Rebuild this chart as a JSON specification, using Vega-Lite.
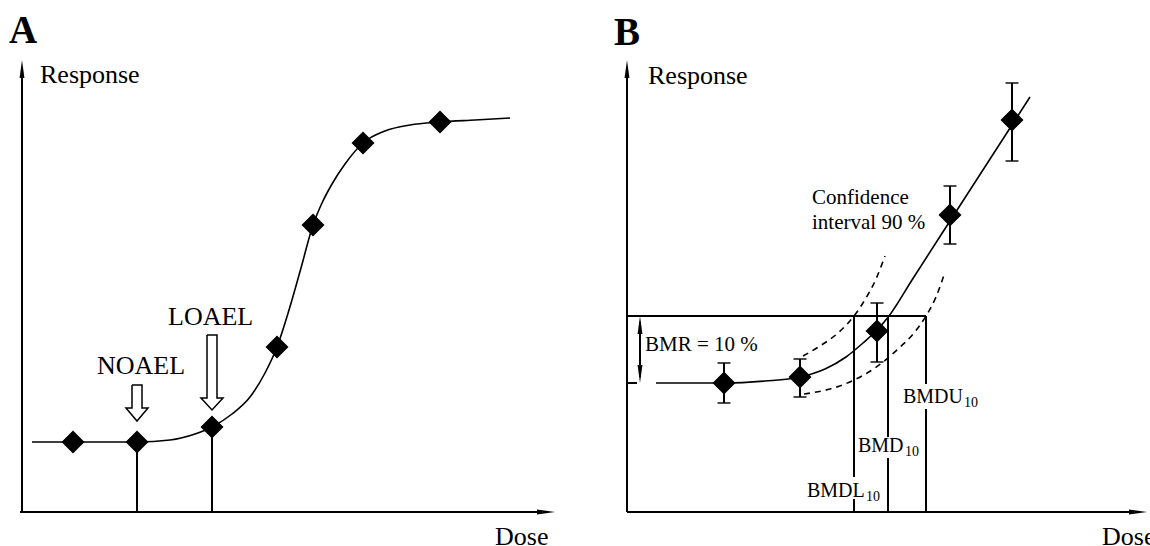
{
  "$schema": "https://vega.github.io/schema/vega-lite/v6.json",
  "width": 1150,
  "height": 546,
  "padding": 0,
  "autosize": {"type": "none"},
  "background": "white",
  "config": {"view": {"stroke": null}},
  "datasets": {
    "rules": [
      {"x": 22, "y": 512, "x2": 22, "y2": 70},
      {"x": 20, "y": 512, "x2": 545, "y2": 512},
      {"x": 627, "y": 512, "x2": 627, "y2": 70},
      {"x": 627, "y": 512, "x2": 1139, "y2": 512},
      {"x": 137, "y": 442, "x2": 137, "y2": 512},
      {"x": 212, "y": 427, "x2": 212, "y2": 512},
      {"x": 627, "y": 316, "x2": 926, "y2": 316},
      {"x": 627, "y": 383, "x2": 637, "y2": 383},
      {"x": 640, "y": 322, "x2": 640, "y2": 377},
      {"x": 854, "y": 316, "x2": 854, "y2": 477},
      {"x": 854, "y": 499, "x2": 854, "y2": 512},
      {"x": 888, "y": 316, "x2": 888, "y2": 437},
      {"x": 888, "y": 458, "x2": 888, "y2": 512},
      {"x": 926, "y": 316, "x2": 926, "y2": 384},
      {"x": 926, "y": 409, "x2": 926, "y2": 512}
    ],
    "heads": [
      {"x": 22, "y": 69, "dir": "up"},
      {"x": 627, "y": 69, "dir": "up"},
      {"x": 546, "y": 512, "dir": "right"},
      {"x": 1138, "y": 512, "dir": "right"},
      {"x": 640, "y": 325, "dir": "up"},
      {"x": 640, "y": 374, "dir": "down"}
    ],
    "fits": [
      {"c": "A", "x": 32, "y": 442}, {"c": "A", "x": 80, "y": 442}, {"c": "A", "x": 137, "y": 442},
      {"c": "A", "x": 170, "y": 440}, {"c": "A", "x": 195, "y": 434}, {"c": "A", "x": 212, "y": 427},
      {"c": "A", "x": 232, "y": 414}, {"c": "A", "x": 250, "y": 397}, {"c": "A", "x": 265, "y": 373},
      {"c": "A", "x": 277, "y": 347}, {"c": "A", "x": 289, "y": 310}, {"c": "A", "x": 301, "y": 268},
      {"c": "A", "x": 313, "y": 225}, {"c": "A", "x": 322, "y": 203}, {"c": "A", "x": 332, "y": 184},
      {"c": "A", "x": 345, "y": 164}, {"c": "A", "x": 363, "y": 143}, {"c": "A", "x": 385, "y": 131},
      {"c": "A", "x": 410, "y": 125}, {"c": "A", "x": 440, "y": 122}, {"c": "A", "x": 475, "y": 120},
      {"c": "A", "x": 510, "y": 118},
      {"c": "B", "x": 656, "y": 383}, {"c": "B", "x": 724, "y": 383}, {"c": "B", "x": 765, "y": 381},
      {"c": "B", "x": 800, "y": 377}, {"c": "B", "x": 825, "y": 369}, {"c": "B", "x": 846, "y": 357},
      {"c": "B", "x": 863, "y": 343}, {"c": "B", "x": 877, "y": 330}, {"c": "B", "x": 889, "y": 316},
      {"c": "B", "x": 912, "y": 280}, {"c": "B", "x": 950, "y": 221}, {"c": "B", "x": 1012, "y": 125},
      {"c": "B", "x": 1030, "y": 97}
    ],
    "ci": [
      {"c": "upper", "x": 803, "y": 356}, {"c": "upper", "x": 820, "y": 346}, {"c": "upper", "x": 838, "y": 333},
      {"c": "upper", "x": 854, "y": 316}, {"c": "upper", "x": 866, "y": 298}, {"c": "upper", "x": 876, "y": 279},
      {"c": "upper", "x": 885, "y": 256},
      {"c": "lower", "x": 804, "y": 394}, {"c": "lower", "x": 830, "y": 389}, {"c": "lower", "x": 852, "y": 381},
      {"c": "lower", "x": 875, "y": 368}, {"c": "lower", "x": 898, "y": 349}, {"c": "lower", "x": 914, "y": 333},
      {"c": "lower", "x": 926, "y": 316}, {"c": "lower", "x": 936, "y": 297}, {"c": "lower", "x": 945, "y": 272}
    ],
    "hollow": [
      {"a": "NOAEL", "o": 1, "x": 132, "y": 385}, {"a": "NOAEL", "o": 2, "x": 142, "y": 385},
      {"a": "NOAEL", "o": 3, "x": 142, "y": 408}, {"a": "NOAEL", "o": 4, "x": 148, "y": 408},
      {"a": "NOAEL", "o": 5, "x": 137, "y": 421}, {"a": "NOAEL", "o": 6, "x": 126, "y": 408},
      {"a": "NOAEL", "o": 7, "x": 132, "y": 408}, {"a": "NOAEL", "o": 8, "x": 132, "y": 385},
      {"a": "LOAEL", "o": 1, "x": 207, "y": 335}, {"a": "LOAEL", "o": 2, "x": 217, "y": 335},
      {"a": "LOAEL", "o": 3, "x": 217, "y": 398}, {"a": "LOAEL", "o": 4, "x": 223, "y": 398},
      {"a": "LOAEL", "o": 5, "x": 212, "y": 410}, {"a": "LOAEL", "o": 6, "x": 201, "y": 398},
      {"a": "LOAEL", "o": 7, "x": 207, "y": 398}, {"a": "LOAEL", "o": 8, "x": 207, "y": 335}
    ],
    "errs": [
      {"x": 724, "lo": 363, "hi": 403},
      {"x": 800, "lo": 359, "hi": 397},
      {"x": 877, "lo": 303, "hi": 362},
      {"x": 950, "lo": 186, "hi": 244},
      {"x": 1012, "lo": 83, "hi": 161}
    ],
    "points": [
      {"x": 73, "y": 442}, {"x": 137, "y": 442}, {"x": 212, "y": 427}, {"x": 277, "y": 347},
      {"x": 313, "y": 225}, {"x": 363, "y": 143}, {"x": 440, "y": 122},
      {"x": 724, "y": 383}, {"x": 800, "y": 377}, {"x": 877, "y": 331}, {"x": 950, "y": 215}, {"x": 1012, "y": 120}
    ],
    "letters": [
      {"t": "A", "x": 9, "y": 43},
      {"t": "B", "x": 614, "y": 45}
    ],
    "big": [
      {"t": "Response", "x": 40, "y": 83},
      {"t": "Response", "x": 648, "y": 84},
      {"t": "Dose", "x": 495, "y": 545},
      {"t": "Dose", "x": 1102, "y": 545},
      {"t": "NOAEL", "x": 97, "y": 374},
      {"t": "LOAEL", "x": 168, "y": 325}
    ],
    "mid": [
      {"t": "BMR = 10 %", "x": 645, "y": 351},
      {"t": "Confidence", "x": 812, "y": 204},
      {"t": "interval 90 %", "x": 812, "y": 229}
    ],
    "bmd": [
      {"t": "BMDL", "x": 807, "y": 497},
      {"t": "BMD", "x": 858, "y": 452},
      {"t": "BMDU", "x": 903, "y": 403}
    ],
    "subs": [
      {"t": "10", "x": 866, "y": 501},
      {"t": "10", "x": 905, "y": 456},
      {"t": "10", "x": 964, "y": 407}
    ]
  },
  "layer": [
    {
      "data": {"name": "rules"},
      "mark": {"type": "rule", "color": "black", "strokeWidth": 2},
      "encoding": {
        "x": {"field": "x", "type": "quantitative", "axis": null, "scale": {"domain": [0, 1150], "nice": false, "zero": false}},
        "y": {"field": "y", "type": "quantitative", "axis": null, "scale": {"domain": [0, 546], "nice": false, "zero": false, "reverse": true}},
        "x2": {"field": "x2"},
        "y2": {"field": "y2"}
      }
    },
    {
      "data": {"name": "fits"},
      "mark": {"type": "line", "color": "black", "strokeWidth": 1.6, "interpolate": "monotone"},
      "encoding": {
        "x": {"field": "x", "type": "quantitative"},
        "y": {"field": "y", "type": "quantitative"},
        "detail": {"field": "c"}
      }
    },
    {
      "data": {"name": "ci"},
      "mark": {"type": "line", "color": "black", "strokeWidth": 1.6, "interpolate": "monotone", "strokeDash": [6, 5]},
      "encoding": {
        "x": {"field": "x", "type": "quantitative"},
        "y": {"field": "y", "type": "quantitative"},
        "detail": {"field": "c"}
      }
    },
    {
      "data": {"name": "hollow"},
      "mark": {"type": "line", "color": "black", "strokeWidth": 1.5, "strokeJoin": "miter"},
      "encoding": {
        "x": {"field": "x", "type": "quantitative"},
        "y": {"field": "y", "type": "quantitative"},
        "detail": {"field": "a"},
        "order": {"field": "o"}
      }
    },
    {
      "data": {"name": "errs"},
      "mark": {"type": "rule", "color": "black", "strokeWidth": 2},
      "encoding": {
        "x": {"field": "x", "type": "quantitative"},
        "y": {"field": "lo", "type": "quantitative"},
        "y2": {"field": "hi"}
      }
    },
    {
      "data": {"name": "errs"},
      "mark": {"type": "tick", "orient": "horizontal", "color": "black", "size": 13, "thickness": 2},
      "encoding": {
        "x": {"field": "x", "type": "quantitative"},
        "y": {"field": "lo", "type": "quantitative"}
      }
    },
    {
      "data": {"name": "errs"},
      "mark": {"type": "tick", "orient": "horizontal", "color": "black", "size": 13, "thickness": 2},
      "encoding": {
        "x": {"field": "x", "type": "quantitative"},
        "y": {"field": "hi", "type": "quantitative"}
      }
    },
    {
      "data": {"name": "points"},
      "mark": {"type": "point", "shape": "diamond", "filled": true, "color": "black", "size": 529, "opacity": 1},
      "encoding": {
        "x": {"field": "x", "type": "quantitative"},
        "y": {"field": "y", "type": "quantitative"}
      }
    },
    {
      "data": {"name": "heads"},
      "mark": {"type": "point", "filled": true, "color": "black", "size": 324, "opacity": 1},
      "encoding": {
        "x": {"field": "x", "type": "quantitative"},
        "y": {"field": "y", "type": "quantitative"},
        "shape": {
          "field": "dir", "type": "nominal", "legend": null,
          "scale": {"domain": ["up", "down", "right"], "range": ["M 0 -1 L 0.27 1 L -0.27 1 Z", "M 0 1 L 0.27 -1 L -0.27 -1 Z", "M 1 0 L -1 0.27 L -1 -0.27 Z"]}
        }
      }
    },
    {
      "data": {"name": "letters"},
      "mark": {"type": "text", "font": "Liberation Serif", "fontSize": 39, "fontWeight": "bold", "align": "left", "baseline": "alphabetic", "color": "black"},
      "encoding": {
        "x": {"field": "x", "type": "quantitative"},
        "y": {"field": "y", "type": "quantitative"},
        "text": {"field": "t"}
      }
    },
    {
      "data": {"name": "big"},
      "mark": {"type": "text", "font": "Liberation Serif", "fontSize": 26, "align": "left", "baseline": "alphabetic", "color": "black"},
      "encoding": {
        "x": {"field": "x", "type": "quantitative"},
        "y": {"field": "y", "type": "quantitative"},
        "text": {"field": "t"}
      }
    },
    {
      "data": {"name": "mid"},
      "mark": {"type": "text", "font": "Liberation Serif", "fontSize": 21, "align": "left", "baseline": "alphabetic", "color": "black"},
      "encoding": {
        "x": {"field": "x", "type": "quantitative"},
        "y": {"field": "y", "type": "quantitative"},
        "text": {"field": "t"}
      }
    },
    {
      "data": {"name": "bmd"},
      "mark": {"type": "text", "font": "Liberation Serif", "fontSize": 20, "align": "left", "baseline": "alphabetic", "color": "black"},
      "encoding": {
        "x": {"field": "x", "type": "quantitative"},
        "y": {"field": "y", "type": "quantitative"},
        "text": {"field": "t"}
      }
    },
    {
      "data": {"name": "subs"},
      "mark": {"type": "text", "font": "Liberation Serif", "fontSize": 14, "align": "left", "baseline": "alphabetic", "color": "black"},
      "encoding": {
        "x": {"field": "x", "type": "quantitative"},
        "y": {"field": "y", "type": "quantitative"},
        "text": {"field": "t"}
      }
    }
  ]
}
